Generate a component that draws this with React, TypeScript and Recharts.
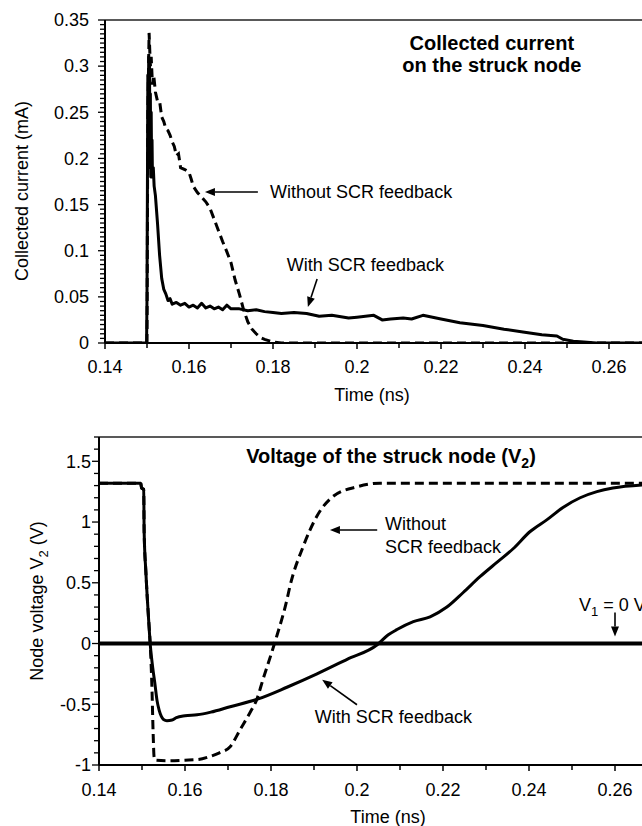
import React from "react";
import {
    LineChart, Line, XAxis, YAxis, ReferenceLine, ReferenceDot, Label,
} from "recharts";

const FONT = "'Liberation Sans', Arial, Helvetica, sans-serif";

// axis ticks (labelled majors, minors are filled in between)
const TIME_MAJOR = [0.14, 0.16, 0.18, 0.2, 0.22, 0.24, 0.26];
const TIME_END = 0.27;
const CURRENT_MAJOR = [0, 0.05, 0.1, 0.15, 0.2, 0.25, 0.3, 0.35];
const VOLT_MAJOR = [-1, -0.5, 0, 0.5, 1, 1.5, 2];

// collected current, with SCR feedback (solid)
const T_CUR_WITH = [
    0.14, 0.1499, 0.15, 0.1502, 0.1503, 0.1504, 0.1505, 0.1506, 0.1507, 0.1508, 0.1509, 0.151,
    0.1511, 0.1512, 0.1513, 0.1515, 0.1517, 0.152, 0.1525, 0.153, 0.1535, 0.154, 0.1545, 0.155,
    0.1555, 0.156, 0.157, 0.158, 0.159, 0.16, 0.161, 0.162, 0.163, 0.164, 0.165, 0.166, 0.167,
    0.168, 0.169, 0.17, 0.172, 0.174, 0.176, 0.178, 0.18, 0.182, 0.185, 0.188, 0.191, 0.194,
    0.198, 0.2, 0.204, 0.206, 0.208, 0.211, 0.213, 0.2157, 0.22, 0.2245, 0.23, 0.235, 0.2395,
    0.244, 0.2476, 0.249, 0.2515, 0.254, 0.257, 0.27,
];
const I_WITH = [
    0, 0, 0.05, 0.29, 0.2, 0.31, 0.22, 0.3, 0.19, 0.27, 0.18, 0.25,
    0.19, 0.22, 0.18, 0.19, 0.17, 0.16, 0.13, 0.095, 0.07, 0.058, 0.053, 0.046,
    0.048, 0.042, 0.044, 0.041, 0.043, 0.039, 0.041, 0.038, 0.043, 0.038, 0.04, 0.037, 0.039,
    0.036, 0.041, 0.037, 0.037, 0.035, 0.036, 0.034, 0.033, 0.032, 0.033, 0.032, 0.029, 0.03,
    0.027, 0.028, 0.03, 0.025, 0.026, 0.027, 0.026, 0.03, 0.026, 0.022, 0.019, 0.015, 0.012,
    0.009, 0.0076, 0.004, 0.002, 0.001, 0, 0,
];

// collected current, without SCR feedback (dashed)
const T_CUR_WITHOUT = [
    0.14, 0.15, 0.1502, 0.1505, 0.1508, 0.151, 0.1513, 0.1516, 0.152, 0.1525, 0.153, 0.1535,
    0.154, 0.1545, 0.155, 0.1555, 0.156, 0.1565, 0.157, 0.1575, 0.158, 0.159, 0.16, 0.1605,
    0.161, 0.162, 0.163, 0.164, 0.165, 0.166, 0.167, 0.168, 0.169, 0.17, 0.171, 0.172, 0.173,
    0.174, 0.175, 0.176, 0.177, 0.178, 0.18, 0.182, 0.27,
];
const I_WITHOUT = [
    0, 0, 0.25, 0.336, 0.3, 0.31, 0.28, 0.29, 0.272, 0.262, 0.262, 0.245,
    0.24, 0.232, 0.23, 0.225, 0.218, 0.213, 0.203, 0.205, 0.19, 0.188, 0.185, 0.178,
    0.17, 0.163, 0.158, 0.153, 0.146, 0.134, 0.122, 0.11, 0.099, 0.087, 0.068, 0.053, 0.036,
    0.023, 0.015, 0.01, 0.006, 0.004, 0.001, 0, 0,
];

// node voltage V2, with SCR feedback (solid)
const T_V_WITH = [
    0.14, 0.1497, 0.1499, 0.1504, 0.1505, 0.1509, 0.1515, 0.1519, 0.1525, 0.153, 0.1535,
    0.154, 0.1545, 0.155, 0.1558, 0.157, 0.158, 0.16, 0.1628, 0.166, 0.1705, 0.1767,
    0.1837, 0.1907, 0.1977, 0.2047, 0.2072, 0.2093, 0.2131, 0.217, 0.2209, 0.2247,
    0.2286, 0.2326, 0.2363, 0.2402, 0.2442, 0.2479, 0.2519, 0.2558, 0.2595, 0.2663, 0.27,
];
const V_WITH = [
    1.32, 1.32, 1.28, 1.27, 0.92, 0.59, 0.22, 0, -0.2, -0.33, -0.47,
    -0.55, -0.6, -0.625, -0.635, -0.63, -0.61, -0.595, -0.587, -0.565, -0.52, -0.46,
    -0.36, -0.25, -0.13, -0.01, 0.07, 0.115, 0.18, 0.22, 0.3, 0.42,
    0.55, 0.67, 0.78, 0.92, 1.02, 1.12, 1.2, 1.25, 1.28, 1.305, 1.31,
];

// node voltage V2, without SCR feedback (dashed)
const T_V_WITHOUT = [
    0.14, 0.1497, 0.1499, 0.1504, 0.1505, 0.1509, 0.1515, 0.1519, 0.1523, 0.1526, 0.1528,
    0.153, 0.156, 0.16, 0.163, 0.1658, 0.168, 0.1705, 0.1728, 0.1751, 0.1767, 0.1781, 0.1809,
    0.1837, 0.1844, 0.1875, 0.1907, 0.1944, 0.2, 0.2053, 0.27,
];
const V_WITHOUT = [
    1.32, 1.32, 1.28, 1.27, 0.92, 0.59, 0.22, 0, -0.35, -0.75, -0.93,
    -0.96, -0.965, -0.96, -0.955, -0.93, -0.9, -0.85, -0.71, -0.57, -0.46, -0.3, 0.01,
    0.36, 0.47, 0.8, 1.05, 1.21, 1.29, 1.32, 1.32,
];

const pts = (ts: number[], vs: number[]) => ts.map((t, i) => ({ t, v: vs[i] }));

const withMinor = (major: number[], n: number) => {
    const out: number[] = [];
    for (let i = 0; i < major.length - 1; i++) {
        for (let k = 0; k < n; k++) {
            out.push(Number((major[i] + ((major[i + 1] - major[i]) * k) / n).toFixed(4)));
        }
    }
    out.push(major[major.length - 1]);
    return out;
};

const fmt = (v: number) => String(Number(v.toFixed(2)));
const isMajor = (v: number, list: number[]) => list.some((m) => Math.abs(m - v) < 1e-6);

const TIME_TICKS = [...withMinor(TIME_MAJOR, 2), TIME_END];
const CURRENT_TICKS = withMinor(CURRENT_MAJOR, 10);
const VOLT_TICKS = withMinor(VOLT_MAJOR, 5).filter((v) => v <= 1.7 + 1e-9);

const txt = { fontFamily: FONT, fontSize: 18, fill: "#000" };

function makeXTick(gap: number) {
    return (p: any) => {
        const v = Number(p.payload.value);
        const major = isMajor(v, TIME_MAJOR);
        return (
            <g>
                <line x1={p.x} y1={p.y} x2={p.x} y2={p.y + (major ? 6 : 5)} stroke="#000" strokeWidth={1.5} />
                {major && (
                    <text x={p.x} y={p.y + gap} textAnchor="middle" dy="0.35em" {...txt}>
                        {fmt(v)}
                    </text>
                )}
            </g>
        );
    };
}

function makeYTick(majors: number[], gap: number) {
    return (p: any) => {
        const v = Number(p.payload.value);
        const major = isMajor(v, majors);
        return (
            <g>
                <line x1={p.x - (major ? 7 : 5)} y1={p.y} x2={p.x} y2={p.y} stroke="#000" strokeWidth={1.3} />
                {major && (
                    <text x={p.x - gap} y={p.y} textAnchor="end" dy="0.35em" {...txt}>
                        {fmt(v)}
                    </text>
                )}
            </g>
        );
    };
}

// arrow drawn from the reference segment's computed endpoints
const Arrow = (p: any) => {
    const { x1, y1, x2, y2 } = p;
    const a = Math.atan2(y2 - y1, x2 - x1);
    const L = 10, W = 4;
    const bx = x2 - L * Math.cos(a), by = y2 - L * Math.sin(a);
    const px = -Math.sin(a) * W, py = Math.cos(a) * W;
    return (
        <g>
            <line x1={x1} y1={y1} x2={bx} y2={by} stroke="#000" strokeWidth={1.6} />
            <polygon points={`${x2},${y2} ${bx + px},${by + py} ${bx - px},${by - py}`} fill="#000" />
        </g>
    );
};

const note = (lines: string[], anchor = "start") => (p: any) => (
    <text x={p.cx} y={p.cy} textAnchor={anchor} {...txt}>
        {lines.map((l, i) => (
            <tspan key={i} x={p.cx} dy={i === 0 ? "0.35em" : 23}>{l}</tspan>
        ))}
    </text>
);

const boldNote = (lines: string[]) => (p: any) => (
    <text x={p.cx} y={p.cy} textAnchor="middle" {...txt} fontSize={20} fontWeight="bold">
        {lines.map((l, i) => (
            <tspan key={i} x={p.cx} dy={i === 0 ? "0.35em" : 22}>{l}</tspan>
        ))}
    </text>
);

const voltTitle = (p: any) => (
    <text x={p.cx} y={p.cy} textAnchor="middle" dy="0.35em" {...txt} fontSize={20} fontWeight="bold">
        Voltage of the struck node (V<tspan fontSize={14} dy={5}>2</tspan><tspan dy={-5}>)</tspan>
    </text>
);

const v1Note = (p: any) => (
    <text x={p.cx} y={p.cy} dy="0.35em" {...txt}>
        V<tspan fontSize={13} dy={5}>1</tspan><tspan dy={-5}> = 0 V</tspan>
    </text>
);

const timeTitle = (dx: number, dy: number) => (p: any) => {
    const vb = p.viewBox || { x: 0, y: 0 };
    return (
        <text x={vb.x + dx} y={vb.y + dy} textAnchor="middle" dy="0.35em" {...txt}>
            Time (ns)
        </text>
    );
};

const currentTitle = (p: any) => {
    const vb = p.viewBox || { x: 0, y: 0 };
    const x = vb.x + 22, y = vb.y + 171;
    return (
        <text x={x} y={y} transform={`rotate(-90 ${x} ${y})`} textAnchor="middle" dy="0.35em" {...txt}>
            Collected current (mA)
        </text>
    );
};

const voltAxisTitle = (p: any) => {
    const vb = p.viewBox || { x: 0, y: 0 };
    const x = vb.x + 37, y = vb.y + 164;
    return (
        <text x={x} y={y} transform={`rotate(-90 ${x} ${y})`} textAnchor="middle" dy="0.35em" {...txt}>
            Node voltage V<tspan fontSize={13} dy={5}>2</tspan><tspan dy={-5}> (V)</tspan>
        </text>
    );
};

export default function App() {
    return (
        <div style={{ position: "fixed", left: 0, top: 0, width: 642, height: 826, overflow: "hidden", background: "#fff" }}>
            <div style={{ position: "absolute", left: 0, top: 0 }}>
                {/* 4200 px per ns: 0.13 ns -> 546 px plot */}
                <LineChart width={671} height={408} margin={{ top: 20, right: 20, left: 0, bottom: 0 }}>
                    <XAxis
                        dataKey="t" type="number" domain={[0.14, TIME_END]} ticks={TIME_TICKS} interval={0}
                        allowDataOverflow tickLine={false} tickSize={0} tickMargin={0} height={65}
                        axisLine={{ stroke: "#000", strokeWidth: 2 }} tick={makeXTick(24)}
                    >
                        <Label content={timeTitle(267, 52)} />
                    </XAxis>
                    <YAxis
                        type="number" domain={[0, 0.35]} ticks={CURRENT_TICKS} interval={0}
                        allowDataOverflow tickLine={false} tickSize={0} tickMargin={0} width={105}
                        axisLine={{ stroke: "#000", strokeWidth: 2 }} tick={makeYTick(CURRENT_MAJOR, 16)}
                    >
                        <Label content={currentTitle} />
                    </YAxis>
                    <ReferenceLine y={0.35} stroke="#222" strokeWidth={1.5} />
                    <Line
                        data={pts(T_CUR_WITHOUT, I_WITHOUT)} dataKey="v" type="linear" stroke="#000"
                        strokeWidth={3} strokeDasharray="9 5" dot={false} isAnimationActive={false}
                    />
                    <Line
                        data={pts(T_CUR_WITH, I_WITH)} dataKey="v" type="linear" stroke="#000"
                        strokeWidth={3} dot={false} isAnimationActive={false} strokeLinejoin="round"
                    />
                    <ReferenceDot x={0.2321} y={0.325} r={1} shape={boldNote(["Collected current", "on the struck node"])} />
                    <ReferenceLine segment={[{ x: 0.1764, y: 0.1636 }, { x: 0.1638, y: 0.1636 }]} shape={Arrow} />
                    <ReferenceDot x={0.1793} y={0.1636} r={1} shape={note(["Without SCR feedback"])} />
                    <ReferenceLine segment={[{ x: 0.1905, y: 0.0693 }, { x: 0.1883, y: 0.039 }]} shape={Arrow} />
                    <ReferenceDot x={0.1833} y={0.0845} r={1} shape={note(["With SCR feedback"])} />
                </LineChart>
            </div>
            <div style={{ position: "absolute", left: 0, top: 417 }}>
                {/* 4300 px per ns: 0.13 ns -> 559 px plot */}
                <LineChart width={678} height={409} margin={{ top: 20, right: 20, left: 0, bottom: 0 }}>
                    <XAxis
                        dataKey="t" type="number" domain={[0.14, TIME_END]} ticks={TIME_TICKS} interval={0}
                        allowDataOverflow tickLine={false} tickSize={0} tickMargin={0} height={61}
                        axisLine={{ stroke: "#000", strokeWidth: 2 }} tick={makeXTick(25)}
                    >
                        <Label content={timeTitle(289, 52)} />
                    </XAxis>
                    <YAxis
                        type="number" domain={[-1, 1.7]} ticks={VOLT_TICKS} interval={0}
                        allowDataOverflow tickLine={false} tickSize={0} tickMargin={0} width={99}
                        axisLine={{ stroke: "#000", strokeWidth: 2 }} tick={makeYTick(VOLT_MAJOR, 8)}
                    >
                        <Label content={voltAxisTitle} />
                    </YAxis>
                    <ReferenceLine y={1.7} stroke="#222" strokeWidth={1.5} />
                    <ReferenceLine y={0} stroke="#000" strokeWidth={4} />
                    <Line
                        data={pts(T_V_WITHOUT, V_WITHOUT)} dataKey="v" type="monotone" stroke="#000"
                        strokeWidth={3} strokeDasharray="9 5" dot={false} isAnimationActive={false}
                    />
                    <Line
                        data={pts(T_V_WITH, V_WITH)} dataKey="v" type="monotone" stroke="#000"
                        strokeWidth={3} dot={false} isAnimationActive={false}
                    />
                    <ReferenceDot x={0.2079} y={1.545} r={1} shape={voltTitle} />
                    <ReferenceLine segment={[{ x: 0.2047, y: 0.934 }, { x: 0.1937, y: 0.934 }]} shape={Arrow} />
                    <ReferenceDot x={0.2065} y={0.99} r={1} shape={note(["Without", "SCR feedback"])} />
                    <ReferenceLine segment={[{ x: 0.2, y: -0.504 }, { x: 0.1919, y: -0.298 }]} shape={Arrow} />
                    <ReferenceDot x={0.1902} y={-0.603} r={1} shape={note(["With SCR feedback"])} />
                    <ReferenceLine segment={[{ x: 0.26, y: 0.256 }, { x: 0.26, y: 0.058 }]} shape={Arrow} />
                    <ReferenceDot x={0.2516} y={0.322} r={1} shape={v1Note} />
                </LineChart>
            </div>
        </div>
    );
}
